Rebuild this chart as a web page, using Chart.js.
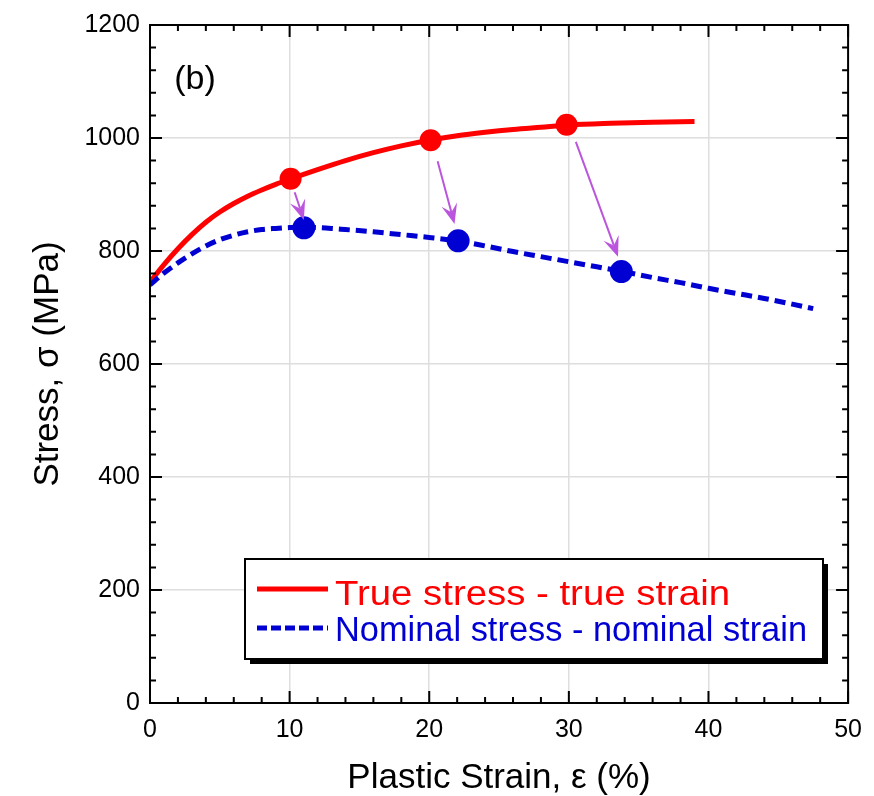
<!DOCTYPE html>
<html><head><meta charset="utf-8">
<script src="https://cdn.jsdelivr.net/npm/chart.js@4.4.0/dist/chart.umd.min.js"></script>
<style>html,body{margin:0;padding:0;background:#fff;}</style>
</head><body>
<canvas id="c" width="874" height="796" style="width:874px;height:796px;display:block"></canvas>
<script>
// ---- data ----
const trueStrain    = [0, 1, 2, 3, 4, 5, 6, 7, 8, 9, 10, 12, 14, 16, 18, 20, 22, 24, 26, 28, 30, 33, 36, 39];
const trueStress    = [745, 776, 804, 829, 851, 869, 884, 897, 908, 918, 927, 944, 960, 974, 986, 996, 1004, 1010, 1015, 1019, 1023, 1026, 1028, 1029];
const nominalStrain = [0, 1, 2, 3, 4, 5, 6, 7, 8, 9, 10, 11, 12, 13, 14, 16, 18, 20, 22, 24, 26, 28, 30, 32, 34, 36, 38, 40, 42, 44, 46, 47.5];
const nominalStress = [740, 761, 779, 795, 809, 820, 828, 834, 838, 840, 841.5, 842, 841.5, 840, 838, 834, 829, 824, 818, 809, 799, 790, 781, 772, 763, 753, 744, 734, 725, 716, 706, 698];
const trueMarkerStrain    = [10.07, 20.1, 29.84];
const trueMarkerStress    = [928, 996, 1023.5];
const nominalMarkerStrain = [11.02, 22.07, 33.76];
const nominalMarkerStress = [841, 818, 763.5];
const arrowFromStrain = [10.36, 20.6, 30.5];
const arrowFromStress = [904, 959, 993];
const arrowToStrain   = [11.02, 21.81, 33.52];
const arrowToStress   = [855, 848, 790];
const xTickValues = [0, 10, 20, 30, 40, 50];
const yTickValues = [0, 200, 400, 600, 800, 1000, 1200];
const xMinorStep = 2;
const yMinorStep = 40;
const seriesLabels = ['True stress - true strain', 'Nominal stress - nominal strain'];
const panelLabel = '(b)';

const FONT = "'Liberation Sans', Arial, Helvetica, sans-serif";
const RED = '#ff0000', BLUE = '#0000d2', ARROW = '#bb55dd';
const pts = (xs, ys) => xs.map((x, i) => ({x, y: ys[i]}));

function fitText(ctx, text, x, y, targetW) {
  const w = ctx.measureText(text).width;
  const sx = targetW / w;
  ctx.save();
  ctx.translate(x, y);
  ctx.scale(sx, 1);
  ctx.fillText(text, 0, 0);
  ctx.restore();
}

const framePlugin = {
  id: 'frame',
  afterDatasetsDraw(chart) {
    const {ctx, chartArea: a, scales: {x, y}} = chart;
    ctx.save();
    // arrows
    ctx.strokeStyle = ARROW; ctx.fillStyle = ARROW; ctx.lineWidth = 2;
    for (let i = 0; i < arrowFromStrain.length; i++) {
      const x0 = x.getPixelForValue(arrowFromStrain[i]), y0 = y.getPixelForValue(arrowFromStress[i]);
      const x1 = x.getPixelForValue(arrowToStrain[i]),   y1 = y.getPixelForValue(arrowToStress[i]);
      const ang = Math.atan2(y1 - y0, x1 - x0);
      const hl = 20, hw = 8;
      const bx = x1 - hl * Math.cos(ang), by = y1 - hl * Math.sin(ang);
      const nx = x1 - hl * 0.6 * Math.cos(ang), ny = y1 - hl * 0.6 * Math.sin(ang);
      ctx.beginPath(); ctx.moveTo(x0, y0); ctx.lineTo(nx, ny); ctx.stroke();
      ctx.beginPath();
      ctx.moveTo(x1, y1);
      ctx.lineTo(bx - hw * Math.sin(ang), by + hw * Math.cos(ang));
      ctx.lineTo(nx, ny);
      ctx.lineTo(bx + hw * Math.sin(ang), by - hw * Math.cos(ang));
      ctx.closePath(); ctx.fill();
    }
    // frame
    ctx.strokeStyle = '#000'; ctx.lineWidth = 2;
    ctx.strokeRect(a.left, a.top, a.right - a.left, a.bottom - a.top);
    // ticks (inside, all four sides)
    ctx.beginPath();
    for (let v = x.min; v <= x.max + 1e-9; v += xMinorStep) {
      const px = x.getPixelForValue(v);
      const len = xTickValues.some(t => Math.abs(t - v) < 1e-6) ? 12 : 6;
      ctx.moveTo(px, a.bottom); ctx.lineTo(px, a.bottom - len);
      ctx.moveTo(px, a.top); ctx.lineTo(px, a.top + len);
    }
    for (let v = y.min; v <= y.max + 1e-9; v += yMinorStep) {
      const py = y.getPixelForValue(v);
      const len = yTickValues.some(t => Math.abs(t - v) < 1e-6) ? 12 : 6;
      ctx.moveTo(a.left, py); ctx.lineTo(a.left + len, py);
      ctx.moveTo(a.right, py); ctx.lineTo(a.right - len, py);
    }
    ctx.stroke();
    // panel label
    ctx.fillStyle = '#000';
    ctx.font = `34px ${FONT}`;
    ctx.textAlign = 'center'; ctx.textBaseline = 'middle';
    ctx.fillText(panelLabel, a.left + 45, a.top + 55);
    // legend
    const L = a.left + 95, T = a.top + 534, W = 578, H = 100;
    ctx.fillStyle = '#000';
    ctx.fillRect(L + 5, T + 5, W, H);
    ctx.fillStyle = '#fff';
    ctx.fillRect(L, T, W, H);
    ctx.strokeStyle = '#000'; ctx.lineWidth = 2;
    ctx.strokeRect(L, T, W, H);
    ctx.lineWidth = 5;
    ctx.strokeStyle = RED; ctx.setLineDash([]);
    ctx.beginPath(); ctx.moveTo(L + 12, T + 30); ctx.lineTo(L + 83, T + 30); ctx.stroke();
    ctx.strokeStyle = BLUE; ctx.setLineDash([10, 4]);
    ctx.beginPath(); ctx.moveTo(L + 12, T + 69); ctx.lineTo(L + 83, T + 69); ctx.stroke();
    ctx.setLineDash([]);
    ctx.font = `35px ${FONT}`;
    ctx.textAlign = 'left'; ctx.textBaseline = 'alphabetic';
    ctx.fillStyle = RED;  fitText(ctx, seriesLabels[0], L + 90, T + 46, 395);
    ctx.fillStyle = BLUE; fitText(ctx, seriesLabels[1], L + 90, T + 82, 472);
    ctx.restore();
  }
};

new Chart(document.getElementById('c'), {
  type: 'scatter',
  data: {
    datasets: [
      {label: 'True markers', data: pts(trueMarkerStrain, trueMarkerStress), showLine: false,
       pointRadius: 11, pointBackgroundColor: RED, pointBorderColor: RED, pointBorderWidth: 0},
      {label: 'Nominal markers', data: pts(nominalMarkerStrain, nominalMarkerStress), showLine: false,
       pointRadius: 11.5, pointBackgroundColor: BLUE, pointBorderColor: BLUE, pointBorderWidth: 0},
      {label: seriesLabels[1], data: pts(nominalStrain, nominalStress), showLine: true, pointRadius: 0,
       borderColor: BLUE, borderWidth: 5, borderDash: [11, 6], cubicInterpolationMode: 'monotone', fill: false},
      {label: seriesLabels[0], data: pts(trueStrain, trueStress), showLine: true, pointRadius: 0,
       borderColor: RED, borderWidth: 5, cubicInterpolationMode: 'monotone', fill: false}
    ]
  },
  options: {
    responsive: false, animation: false, devicePixelRatio: 1,
    layout: {padding: {top: 23, right: 25, left: 0, bottom: 0}},
    plugins: {legend: {display: false}, tooltip: {enabled: false}},
    scales: {
      x: {
        type: 'linear', min: 0, max: 50,
        afterBuildTicks: s => { s.ticks = xTickValues.map(v => ({value: v})); },
        afterFit: s => { s.height = 93; },
        grid: {color: '#dedede', lineWidth: 1.5, drawTicks: false},
        border: {display: false},
        ticks: {color: '#000', font: {family: FONT, size: 25}, padding: 12, maxRotation: 0, autoSkip: false,
                callback: v => String(v)},
        title: {display: true, text: 'Plastic Strain, ε (%)', color: '#000',
                font: {family: FONT, size: 35, lineHeight: 1}, padding: {top: 0, bottom: 0}}
      },
      y: {
        type: 'linear', min: 0, max: 1200,
        afterBuildTicks: s => { s.ticks = yTickValues.map(v => ({value: v})); },
        afterFit: s => { s.width = 150; },
        grid: {color: '#dedede', lineWidth: 1.5, drawTicks: false},
        border: {display: false},
        ticks: {color: '#000', font: {family: FONT, size: 25}, padding: 10, autoSkip: false,
                callback: v => String(v)},
        title: {display: true, text: 'Stress, σ (MPa)', color: '#000',
                font: {family: FONT, size: 35, lineHeight: 1}, padding: {top: 31, bottom: 0}}
      }
    }
  },
  plugins: [framePlugin]
});
</script>
</body></html>
